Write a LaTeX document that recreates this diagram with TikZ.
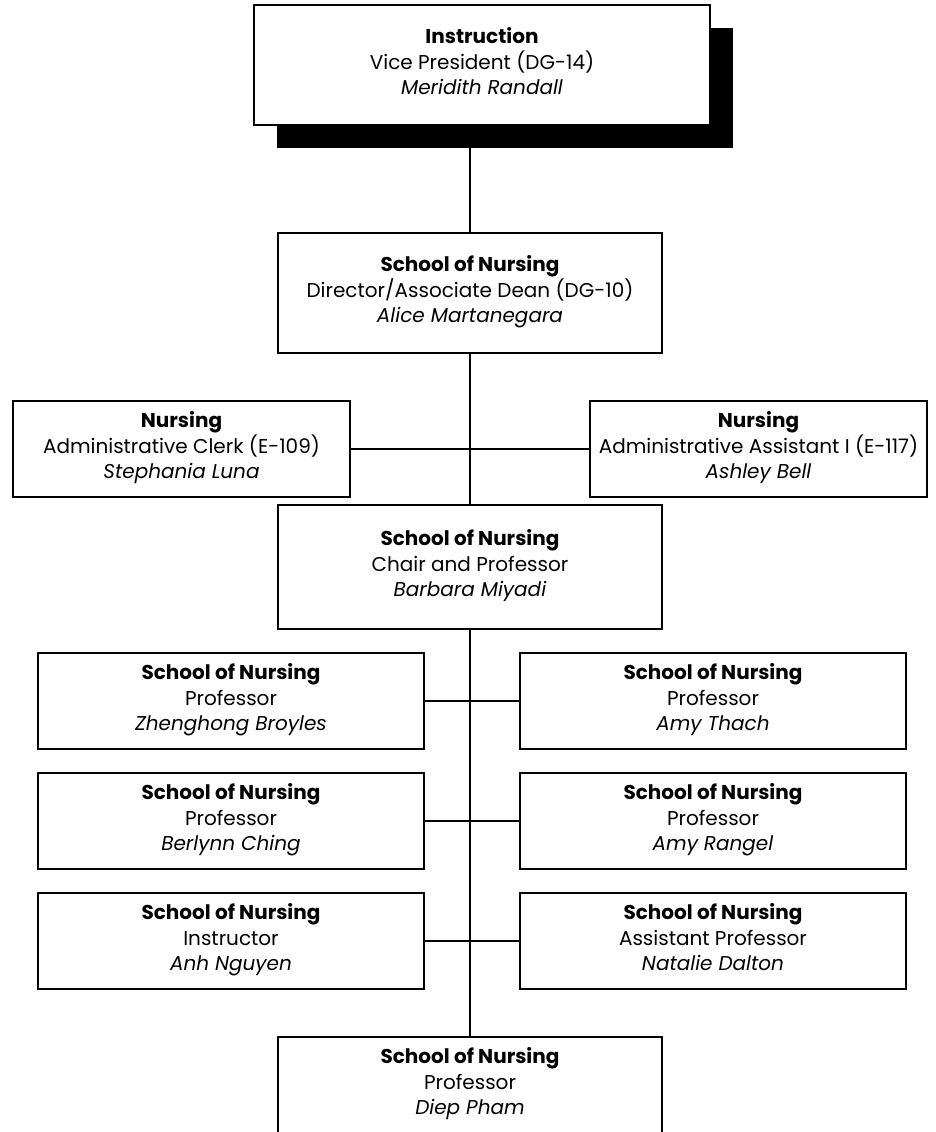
\documentclass[tikz,border=0pt]{standalone}
\usepackage{fontspec}
\setmainfont{Poppins}
\usetikzlibrary{shadows}

\begin{document}
\begin{tikzpicture}[
    x=1pt,y=-1pt,
    box/.style={draw,line width=1.8pt,fill=white,align=center,inner sep=0pt,
        font=\fontsize{20}{25.5}\selectfont,
        execute at begin node={\rule{0pt}{24pt}},execute at end node=\strut},
    wide/.style={box,minimum width=384pt,minimum height=120pt},
    unit/.style={box,minimum width=386pt,minimum height=96pt},
    aide/.style={box,minimum width=337pt,minimum height=96pt},
    link/.style={line width=1.3pt}
]
\useasboundingbox (0,0) rectangle (935,1132);

\node[box,minimum width=456pt,minimum height=120pt,
    drop shadow={shadow xshift=23pt,shadow yshift=-23pt,fill=black,opacity=1}]
    (vp) at (482,65) {\textbf{Instruction}\\Vice President (DG-14)\\\textit{Meridith Randall}};
\node[wide] (director) at (470,293) {\textbf{School of Nursing}\\Director/Associate Dean (DG-10)\\\textit{Alice Martanegara}};
\node[aide] (clerk) at (181.5,449) {\textbf{Nursing}\\Administrative Clerk (E-109)\\\textit{Stephania Luna}};
\node[aide] (assistant) at (758.5,449) {\textbf{Nursing}\\Administrative Assistant I (E-117)\\\textit{Ashley Bell}};
\node[wide,minimum height=124pt] (chair) at (470,567) {\textbf{School of Nursing}\\Chair and Professor\\\textit{Barbara Miyadi}};

\node[unit] (broyles) at (231,701) {\textbf{School of Nursing}\\Professor\\\textit{Zhenghong Broyles}};
\node[unit] (thach) at (713,701) {\textbf{School of Nursing}\\Professor\\\textit{Amy Thach}};
\node[unit] (ching) at (231,821) {\textbf{School of Nursing}\\Professor\\\textit{Berlynn Ching}};
\node[unit] (rangel) at (713,821) {\textbf{School of Nursing}\\Professor\\\textit{Amy Rangel}};
\node[unit] (nguyen) at (231,941) {\textbf{School of Nursing}\\Instructor\\\textit{Anh Nguyen}};
\node[unit] (dalton) at (713,941) {\textbf{School of Nursing}\\Assistant Professor\\\textit{Natalie Dalton}};
\node[wide,minimum height=96pt] (pham) at (470,1085) {\textbf{School of Nursing}\\Professor\\\textit{Diep Pham}};

\draw[link] (director.north) -- (director.north |- vp.south);
\draw[link] (director) -- (chair);
\draw[link] (clerk) -- (assistant);
\draw[link] (chair) -- (pham);
\draw[link] (broyles) -- (thach);
\draw[link] (ching) -- (rangel);
\draw[link] (nguyen) -- (dalton);
\end{tikzpicture}
\end{document}
